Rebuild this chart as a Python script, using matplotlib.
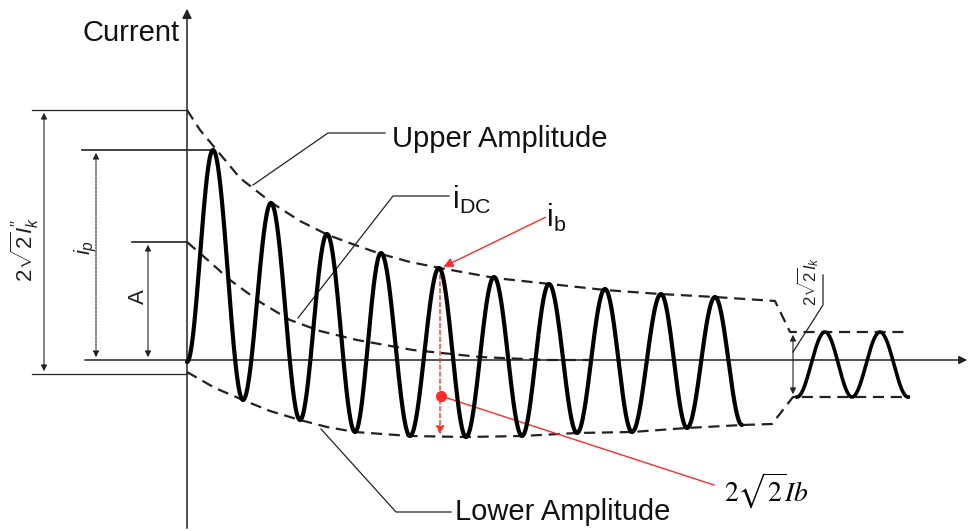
import numpy as np
import matplotlib.pyplot as plt

plt.rcParams['font.family'] = ['Liberation Sans', 'DejaVu Sans']
plt.rcParams['mathtext.fontset'] = 'custom'
plt.rcParams['mathtext.rm'] = 'Liberation Sans'
plt.rcParams['mathtext.it'] = 'Liberation Sans:italic'

# picture coordinates (pixels, y down)
origin = (187, 360)
wave_start = (187, 362)
peak_x = [213, 271, 327, 381, 439, 494, 549, 605, 661, 715]
peak_y = [150, 203, 234, 253, 268, 277, 284, 289, 294, 297]
trough_x = [243, 300, 355, 410, 466, 522, 577, 632, 687, 742]
trough_y = [400, 420, 432, 436, 437, 436, 433, 432, 428, 425]

steady_x = [797, 825, 852, 880, 908]
steady_y = [397, 332, 397, 332, 397]

upper_x = [187, 200, 215, 240, 272, 300, 328, 355, 381, 410, 440, 495, 550, 605, 660, 715, 775, 790, 905]
upper_y = [110, 130, 148, 178, 203, 221, 235, 245, 254, 262, 268, 278, 284, 290, 294, 297, 301, 332, 332]
lower_x = [187, 215, 243, 270, 300, 327, 355, 410, 466, 522, 577, 632, 687, 742, 772, 793, 910]
lower_y = [372, 388, 400, 411, 420, 427, 432, 436, 437, 436, 433, 432, 428, 425, 424, 397, 397]
idc_x = [187, 210, 230, 260, 290, 320, 357, 413, 480, 547, 590]
idc_y = [242, 262, 280, 302, 320, 331, 340, 350, 357, 360, 360]


def half_cos(xs, ys, n=40):
    # join successive extrema with half cosine arcs
    px, py = [], []
    for i in range(len(xs) - 1):
        t = np.linspace(0, 1, n)
        px.extend(xs[i] + (xs[i + 1] - xs[i]) * t)
        py.extend(ys[i] + (ys[i + 1] - ys[i]) * (1 - np.cos(np.pi * t)) / 2)
    return px, py


wx, wy = [wave_start[0]], [wave_start[1]]
for a, b, c, d in zip(peak_x, peak_y, trough_x, trough_y):
    wx += [a, c]
    wy += [b, d]

fig = plt.figure(figsize=(9.71, 5.31), dpi=100)
ax = fig.add_axes([0, 0, 1, 1])
ax.set_xlim(0, 971)
ax.set_ylim(531, 0)
ax.set_axis_off()

dash = dict(color='#222222', lw=1.6, ls=(0, (5, 3)))
thin = dict(color='#222222', lw=0.9)

# axes
ax.annotate('', xy=(970, origin[1]), xytext=(82, origin[1]),
            arrowprops=dict(arrowstyle='-|>', color='#222222', lw=1.1, mutation_scale=12))
ax.annotate('', xy=(origin[0], 6), xytext=(origin[0], 531),
            arrowprops=dict(arrowstyle='-|>', color='#222222', lw=1.1, mutation_scale=14))

# dimension guides on the left
ax.plot([32, 187], [upper_y[0], upper_y[0]], **thin)
ax.plot([32, 187], [lower_y[0] + 2, lower_y[0] + 2], **thin)
ax.plot([82, peak_x[0]], [peak_y[0], peak_y[0]], color='#222222', lw=1.2)
ax.plot([132, 187], [idc_y[0], idc_y[0]], color='#222222', lw=1.2)
dim = dict(arrowstyle='<|-|>', color='#222222', lw=0.8, mutation_scale=9)
ax.annotate('', xy=(44, upper_y[0]), xytext=(44, lower_y[0] + 2), arrowprops=dim)
ax.annotate('', xy=(96, peak_y[0]), xytext=(96, origin[1]),
            arrowprops=dict(dim, ls=(0, (2, 1))))
ax.annotate('', xy=(148, idc_y[0]), xytext=(148, origin[1]), arrowprops=dim)

ax.text(25, 250, r"$2\sqrt{2}I_k^{\prime\prime}$", rotation=90, ha='center', va='center',
        fontsize=16, color='#222222')
ax.text(86, 247, r"$i_p$", rotation=90, ha='center', va='center', fontsize=16, color='#222222')
ax.text(138, 297, "A", rotation=90, ha='center', va='center', fontsize=16, color='#222222')

# envelopes
ax.plot(upper_x, upper_y, **dash)
ax.plot(lower_x, lower_y, **dash)
ax.plot(idc_x, idc_y, **dash)

# current waveform
px, py = half_cos(wx, wy)
ax.plot(px, py, color='black', lw=3.0, solid_capstyle='round', zorder=5)
sx, sy = half_cos(steady_x, steady_y)
ax.plot(sx, sy, color='black', lw=2.6, zorder=5)

# steady state amplitude marker
ax.annotate('', xy=(793, steady_y[1]), xytext=(793, steady_y[0]), arrowprops=dim)
ax.plot([793, 823, 823], [352, 305, 275], **thin)
ax.text(808, 281, r"$2\sqrt{2}I_k$", rotation=90, ha='center', va='center',
        fontsize=12, color='#222222')

# leaders and labels
ax.plot([253, 328, 385], [185, 133, 133], **thin)
ax.text(392, 139, "Upper Amplitude", fontsize=21, va='center', color='#111111')
ax.plot([298, 393, 449], [318, 196, 196], **thin)
ax.text(452, 200, r"$\mathrm{i_{DC}}$", fontsize=22, va='center', color='#111111')
ax.plot([321, 396, 451], [429, 512, 512], **thin)
ax.text(455, 512, "Lower Amplitude", fontsize=21, va='center', color='#111111')
ax.text(83, 33, "Current", fontsize=21, va='center', color='#111111')

# red markers for i_b
red = '#ff2a2a'
ax.annotate('', xy=(peak_x[4] + 2, peak_y[4]), xytext=(548, 216),
            arrowprops=dict(arrowstyle='-|>', color=red, lw=1.0, mutation_scale=14))
ax.text(546, 218, r"$\mathrm{i_b}$", fontsize=22, va='center', color='#111111')
ax.annotate('', xy=(peak_x[4] + 1, trough_y[4]), xytext=(peak_x[4] + 1, peak_y[4] + 4),
            arrowprops=dict(arrowstyle='-|>', color=red, lw=1.0, ls=(0, (3, 2)), mutation_scale=12))
ax.plot([peak_x[4] + 2, 714], [396, 485], color=red, lw=1.0)
ax.plot(peak_x[4] + 2, 396, 'o', color=red, ms=7, zorder=6)
ax.text(724, 491, r"$2\sqrt{2}Ib$", fontsize=20, va='center', color='black',
        math_fontfamily='stix')

fig.savefig('out.png', dpi=100)
